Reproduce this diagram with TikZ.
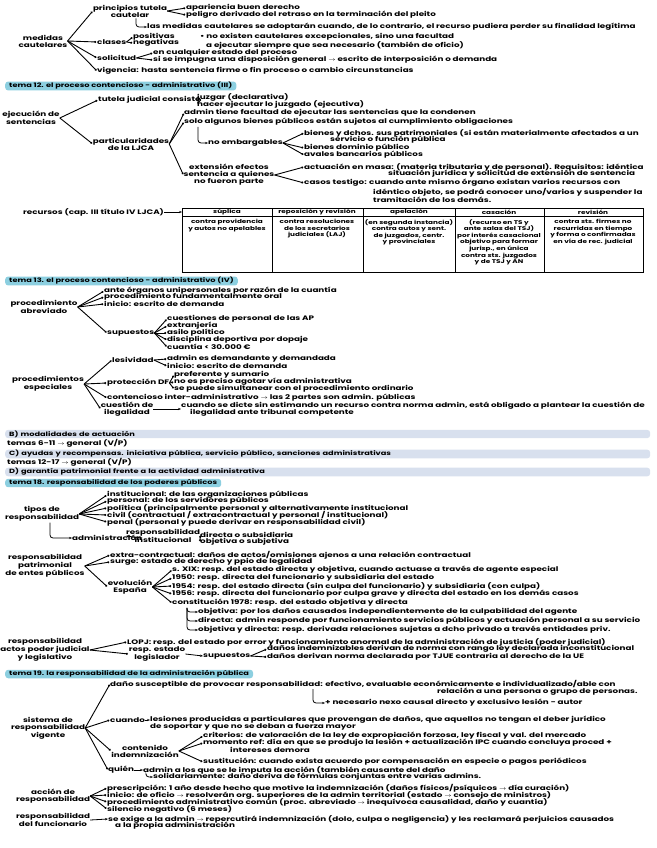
\documentclass[tikz,border=0pt]{standalone}
\usepackage{fontspec}
\setmainfont{Poppins}[FakeStretch=1.35]
\usepackage{tikz}
\usetikzlibrary{arrows.meta,positioning,calc}
\definecolor{headblue}{HTML}{8CCFE0}
\definecolor{bandgray}{HTML}{D8E0EE}
\newcommand\notefont{\fontsize{6.5}{6.9}\selectfont\bfseries}
\newcommand\headfont{\fontsize{6.1}{6.6}\selectfont\bfseries}
\newcommand\cellfont{\fontsize{5.4}{6.6}\selectfont\bfseries}
\newcommand\ra{\(\rightarrow\)}
\begin{document}
\begin{tikzpicture}[
  x=1pt, y=-1pt,
  txt/.style={anchor=west, inner sep=0pt, align=left, font=\notefont},
  lbl/.style={inner sep=0pt, align=center, font=\notefont},
  cell/.style={anchor=north, inner sep=0pt, align=center, font=\cellfont},
  head/.style={anchor=west, fill=headblue, rounded corners=3pt, inner xsep=4pt, inner ysep=0.9pt, font=\headfont},
  band/.style={anchor=west, fill=bandgray, rounded corners=3pt, text width=637pt, inner xsep=4pt, inner ysep=0.7pt, font=\headfont},
  br/.style={-{Circle[length=2pt]}, line width=0.9pt, shorten >=0.8pt},
  hk/.style={-{Stealth[length=3pt]}, line width=0.8pt, rounded corners=3pt},
  arr/.style={-{Stealth[length=3pt]}, line width=0.8pt}
]
\useasboundingbox (0,0) rectangle (656,848);
\fill[white] (0,0) rectangle (656,848);

% medidas cautelares
\node[lbl] (medidas) at (43,41) {medidas\\cautelares};
\node[lbl] (princ) at (130,11) {principios tutela\\cautelar};
\node[txt] (apar) at (186,8) {apariencia buen derecho};
\node[txt] (pelig) at (186,15) {peligro derivado del retraso en la terminación del pleito};
\node[txt] (adopt) at (147,27) {las medidas cautelares se adoptarán cuando, de lo contrario, el recurso pudiera perder su finalidad legítima};
\node[txt] (clases) at (97,42) {clases};
\node[txt] (posit) at (133,37) {positivas};
\node[txt] (negat) at (133,43) {negativas};
\node[txt] (noexist) at (200,41) {• no existen cautelares excepcionales, sino una facultad\\\hspace{6pt}a ejecutar siempre que sea necesario (también de oficio)};
\node[txt] (solic) at (97,58) {solicitud};
\node[txt] (cualq) at (153,53) {en cualquier estado del proceso};
\node[txt] (impug) at (153,60) {si se impugna una disposición general \ra\ escrito de interposición o demanda};
\node[txt] (vigen) at (97,71) {vigencia: hasta sentencia firme o fin proceso o cambio circunstancias};
\draw[br] (medidas.east) -- (princ.west);
\draw[br] (medidas.east) -- (clases.west);
\draw[br] (medidas.east) -- (solic.west);
\draw[br] (medidas.east) -- (vigen.west);
\draw[br] (princ.east) -- (apar.west);
\draw[br] (princ.east) -- (pelig.west);
\draw[hk] ($(princ.south)+(6,1)$) |- (adopt.west);
\draw[br] (clases.east) -- (posit.west);
\draw[br] (clases.east) -- (negat.west);
\draw[br] (solic.east) -- (cualq.west);
\draw[br] (solic.east) -- (impug.west);

\node[head] (t12) at (5,86) {tema 12. el proceso contencioso - administrativo (III)};

% ejecucion de sentencias
\node[lbl] (ejec) at (31,118) {ejecución de\\sentencias};
\node[txt] (tutela) at (98,100) {tutela judicial consiste};
\node[txt] (juzgar) at (197,97) {juzgar (declarativa)};
\node[txt] (hacer) at (197,104) {hacer ejecutar lo juzgado (ejecutiva)};
\node[lbl] (partic) at (131,144) {particularidades\\de la LJCA};
\node[txt] (facult) at (184,113) {admin tiene facultad de ejecutar las sentencias que la condenen};
\node[txt] (algunos) at (184,122) {solo algunos bienes públicos están sujetos al cumplimiento obligaciones};
\node[txt] (noemb) at (208,143) {no embargables};
\node[txt] (bienesA) at (304,133) {bienes y dchos. sus patrimoniales (si están materialmente afectados a un};
\node[txt] (bienesB) at (330,140) {servicio o función pública};
\node[txt] (dompub) at (304,148) {bienes dominio público};
\node[txt] (avales) at (304,155) {avales bancarios públicos};
\node[lbl] (extens) at (229,175) {extensión efectos\\sentencia a quienes\\no fueron parte};
\node[txt] (masa) at (304,167) {actuación en masa: (materia tributaria y de personal). Requisitos: idéntica};
\node[txt] (masa2) at (388,174) {situación jurídica y solicitud de extensión de sentencia};
\node[txt] (testigo) at (304,183) {casos testigo: cuando ante mismo órgano existan varios recursos con};
\node[txt, anchor=north west] (testigo2) at (373,188) {idéntico objeto, se podrá conocer uno/varios y suspender la\\tramitación de los demás.};
\draw[br] (ejec.east) -- (tutela.west);
\draw[br] (ejec.east) -- (partic.west);
\draw[br] (tutela.east) -- (juzgar.west);
\draw[br] (tutela.east) -- (hacer.west);
\draw[br] (partic.east) -- (facult.west);
\draw[br] (partic.east) -- (algunos.west);
\draw[br] (partic.east) -- (extens.west);
\draw[hk] ($(algunos.south west)+(14,1)$) |- (noemb.west);
\draw[br] (noemb.east) -- (bienesA.west);
\draw[br] (noemb.east) -- (dompub.west);
\draw[br] (noemb.east) -- (avales.west);
\draw[br] (extens.east) -- (masa.west);
\draw[br] (extens.east) -- (testigo.west);

% recursos
\node[txt] (recursos) at (23,212) {recursos (cap. III título IV LJCA)};
\coordinate (tabw) at (182,212);
\draw[arr] (recursos.east) -- (tabw);
\draw[line width=0.8pt] (182,208) rectangle (643,272);
\draw[line width=0.8pt] (182,216) -- (643,216);
\foreach \cx in {272,363,455,544} \draw[line width=0.8pt] (\cx,208) -- (\cx,272);
\node[cell, anchor=center] (hsup) at (227,212) {súplica};
\node[cell, anchor=center] (hrep) at (317,212) {reposición y revisión};
\node[cell, anchor=center] (hape) at (409,212) {apelación};
\node[cell, anchor=center] (hcas) at (499,212) {casación};
\node[cell, anchor=center] (hrev) at (593,212) {revisión};
\node[cell] (csup) at (227,219) {contra providencia\\y autos no apelables};
\node[cell] (crep) at (317,219) {contra resoluciones\\de los secretarios\\judiciales (LAJ)};
\node[cell] (cape) at (409,219) {(en segunda instancia)\\contra autos y sent.\\de juzgados, centr.\\y provinciales};
\node[cell] (ccas) at (499,219) {(recurso en TS y\\ante salas del TSJ)\\por interés casacional\\objetivo para formar\\jurisp., en única\\contra sts. juzgados\\y de TSJ y AN};
\node[cell] (crev) at (593,219) {contra sts. firmes no\\recurridas en tiempo\\y forma o confirmadas\\en vía de rec. judicial};

\node[head] (t13) at (5,281) {tema 13. el proceso contencioso - administrativo (IV)};

% procedimientos
\node[lbl] (abrev) at (44,307) {procedimiento\\abreviado};
\node[txt] (ante) at (104,291) {ante órganos unipersonales por razón de la cuantía};
\node[txt] (oral) at (104,297) {procedimiento fundamentalmente oral};
\node[txt] (inicioA) at (104,304) {inicio: escrito de demanda};
\node[txt] (supA) at (107,333) {supuestos};
\node[txt] (personal) at (167,319) {cuestiones de personal de las AP};
\node[txt] (extranj) at (167,326) {extranjería};
\node[txt] (asilo) at (167,333) {asilo político};
\node[txt] (dopaje) at (167,340) {disciplina deportiva por dopaje};
\node[txt] (cuantia) at (167,347) {cuantía < 30.000 €};
\draw[br] (abrev.east) -- (ante.west);
\draw[br] (abrev.east) -- (oral.west);
\draw[br] (abrev.east) -- (inicioA.west);
\draw[br] (abrev.east) -- (supA.west);
\foreach \n in {personal,extranj,asilo,dopaje,cuantia}
  \draw[br] (supA.east) -- (\n.west);

\node[lbl] (espec) at (48,384) {procedimientos\\especiales};
\node[txt] (lesiv) at (112,360) {lesividad};
\node[txt] (demand) at (167,359) {admin es demandante y demandada};
\node[txt] (inicioB) at (167,366) {inicio: escrito de demanda};
\node[txt] (protec) at (107,383) {protección DF};
\node[txt] (prefer) at (174,375) {preferente y sumario};
\node[txt] (agotar) at (174,382) {no es preciso agotar vía administrativa};
\node[txt] (simult) at (174,389) {se puede simultanear con el procedimiento ordinario};
\node[txt] (inter) at (107,398) {contencioso inter-administrativo \ra\ las 2 partes son admin. públicas};
\node[lbl] (cuest) at (127,409) {cuestión de\\ilegalidad};
\node[txt] (dicte) at (181,406) {cuando se dicte sin estimando un recurso contra norma admin, está obligado a plantear la cuestión de};
\node[txt] (dicte2) at (190,413) {ilegalidad ante tribunal competente};
\draw[br] (espec.east) -- (lesiv.west);
\draw[br] (espec.east) -- (protec.west);
\draw[br] (espec.east) -- (inter.west);
\draw[br] (espec.east) -- (cuest.west);
\draw[br] (lesiv.east) -- (demand.west);
\draw[br] (lesiv.east) -- (inicioB.west);
\draw[br] (protec.east) -- (prefer.west);
\draw[br] (protec.east) -- (agotar.west);
\draw[br] (protec.east) -- (simult.west);
\draw[arr] (cuest.east) -- (cuest.east -| dicte.west);

% bloques
\node[band] (bandB) at (5,434) {B) modalidades de actuación};
\node[txt] (temasA) at (7,443) {temas 6-11 \ra\ general (V/P)};
\node[band] (bandC) at (5,454) {C) ayudas y recompensas. iniciativa pública, servicio público, sanciones administrativas};
\node[txt] (temasB) at (7,462) {temas 12-17 \ra\ general (V/P)};
\node[band] (bandD) at (5,472) {D) garantía patrimonial frente a la actividad administrativa};

\node[head] (t18) at (5,483) {tema 18. responsabilidad de los poderes públicos};

% tipos de responsabilidad
\node[lbl] (tipos) at (42,514) {tipos de\\responsabilidad};
\node[txt] (instit) at (107,495) {institucional: de las organizaciones públicas};
\node[txt] (persA) at (107,501) {personal: de los servidores públicos};
\node[txt] (polit) at (107,508) {política (principalmente personal y alternativamente institucional};
\node[txt] (civil) at (107,515) {civil (contractual / extracontractual y personal / institucional)};
\node[txt] (penal) at (107,522) {penal (personal y puede derivar en responsabilidad civil)};
\node[txt] (admon) at (72,538) {administración};
\node[lbl] (respinst) at (163,536) {responsabilidad\\institucional};
\node[txt] (direc) at (200,535) {directa o subsidiaria};
\node[txt] (objet) at (200,542) {objetiva o subjetiva};
\foreach \n in {instit,persA,polit,civil,penal}
  \draw[br] (tipos.east) -- (\n.west);
\draw[hk] ($(tipos.south)+(8,1)$) |- (admon.west);
\draw[arr] (admon.east) -- (respinst.west);
\draw[br] (respinst.east) -- (direc.west);
\draw[br] (respinst.east) -- (objet.west);

% responsabilidad patrimonial
\node[lbl] (patrim) at (45,566) {responsabilidad\\patrimonial\\de entes públicos};
\node[txt] (extra) at (110,555) {extra-contractual: daños de actos/omisiones ajenos a una relación contractual};
\node[txt] (surge) at (110,562) {surge: estado de derecho y ppio de legalidad};
\node[lbl] (evol) at (130,587) {evolución\\España};
\node[txt] (sxix) at (172,570) {s. XIX: resp. del estado directa y objetiva, cuando actuase a través de agente especial};
\node[txt] (e1950) at (172,578) {1950: resp. directa del funcionario y subsidiaria del estado};
\node[txt] (e1954) at (172,586) {1954: resp. del estado directa (sin culpa del funcionario) y subsidiaria (con culpa)};
\node[txt] (e1956) at (172,594) {1956: resp. directa del funcionario por culpa grave y directa del estado en los demás casos};
\node[txt] (const) at (172,603) {constitución 1978: resp. del estado objetiva y directa};
\node[txt] (objA) at (198,612) {objetiva: por los daños causados independientemente de la culpabilidad del agente};
\node[txt] (dirA) at (198,621) {directa: admin responde por funcionamiento servicios públicos y actuación personal a su servicio};
\node[txt] (objdir) at (198,630) {objetiva y directa: resp. derivada relaciones sujetas a dcho privado a través entidades priv.};
\draw[br] (patrim.east) -- (extra.west);
\draw[br] (patrim.east) -- (surge.west);
\draw[br] (patrim.east) -- (evol.west);
\foreach \n in {sxix,e1950,e1954,e1956,const}
  \draw[br] (evol.east) -- (\n.west);
\foreach \n in {objA,dirA,objdir}
  \draw[hk] ($(const.south west)+(15,1)$) |- (\n.west);

% poder judicial y legislativo
\node[lbl] (actos) at (45,650) {responsabilidad\\actos poder judicial\\y legislativo};
\node[txt] (lopj) at (127,642) {LOPJ: resp. del estado por error y funcionamiento anormal de la administración de justicia (poder judicial)};
\node[lbl] (legisl) at (157,654) {resp. estado\\legislador};
\node[txt] (supB) at (203,656) {supuestos};
\node[txt] (indem) at (267,649) {daños indemnizables derivan de norma con rango ley declarada inconstitucional};
\node[txt] (tjue) at (267,657) {daños derivan norma declarada por TJUE contraria al derecho de la UE};
\draw[br] (actos.east) -- (lopj.west);
\draw[br] (actos.east) -- (legisl.west);
\draw[arr] (legisl.east) -- (supB.west);
\draw[br] (supB.east) -- (indem.west);
\draw[br] (supB.east) -- (tjue.west);

\node[head] (t19) at (5,674) {tema 19. la responsabilidad de la administración pública};

% sistema vigente
\node[lbl] (sistema) at (48,728) {sistema de\\responsabilidad\\vigente};
\node[txt] (dano) at (110,684) {daño susceptible de provocar responsabilidad: efectivo, evaluable económicamente e individualizado/able con};
\node[txt] (dano2) at (437,692) {relación a una persona o grupo de personas.};
\node[txt] (nexo) at (325,703) {+ necesario nexo causal directo y exclusivo lesión - autor};
\node[txt] (cuando) at (110,720) {cuando};
\node[txt] (lesion) at (150,723) {lesiones producidas a particulares que provengan de daños, que aquellos no tengan el deber jurídico\\de soportar y que no se deban a fuerza mayor};
\node[lbl] (conten) at (145,751) {contenido\\indemnización};
\node[txt] (criter) at (203,736) {criterios: de valoración de la ley de expropiación forzosa, ley fiscal y val. del mercado};
\node[txt] (moment) at (203,743) {momento ref: día en que se produjo la lesión + actualización IPC cuando concluya proced +};
\node[txt] (moment2) at (230,750) {intereses demora};
\node[txt] (sustit) at (203,762) {sustitución: cuando exista acuerdo por compensación en especie o pagos periódicos};
\node[txt] (quien) at (108,770) {quién};
\node[txt] (imputa) at (143,770) {admin a los que se le imputa la acción (también causante del daño};
\node[txt] (solid) at (153,777) {solidariamente: daño deriva de fórmulas conjuntas entre varias admins.};
\foreach \n in {dano,cuando,conten,quien}
  \draw[br] (sistema.east) -- (\n.west);
\draw[hk] ($(dano.south west)+(203,1)$) |- (nexo.west);
\draw[arr] (cuando.east) -- (cuando.east -| lesion.west);
\foreach \n in {criter,moment,sustit}
  \draw[br] (conten.east) -- (\n.west);
\draw[arr] (quien.east) -- (imputa.west);
\draw[hk] ($(imputa.south west)+(3,1)$) |- (solid.west);

% accion de responsabilidad
\node[lbl] (accion) at (53,796) {acción de\\responsabilidad};
\node[txt] (prescr) at (107,788) {prescripción: 1 año desde hecho que motive la indemnización (daños físicos/psíquicos \ra\ día curación)};
\node[txt] (inicioC) at (107,795) {inicio: de oficio \ra\ resolverán org. superiores de la admin territorial (estado \ra\ consejo de ministros)};
\node[txt] (proced) at (107,802) {procedimiento administrativo común (proc. abreviado \ra\ inequívoca causalidad, daño y cuantía)};
\node[txt] (silen) at (107,809) {silencio negativo (6 meses)};
\foreach \n in {prescr,inicioC,proced,silen}
  \draw[br] (accion.east) -- (\n.west);

\node[lbl] (funcio) at (53,820) {responsabilidad\\del funcionario};
\node[txt] (exige) at (108,819) {se exige a la admin \ra\ repercutirá indemnización (dolo, culpa o negligencia) y les reclamará perjuicios causados};
\node[txt] (propia) at (115,826) {a la propia administración};
\draw[arr] (funcio.east) -- (exige.west);
\end{tikzpicture}
\end{document}
